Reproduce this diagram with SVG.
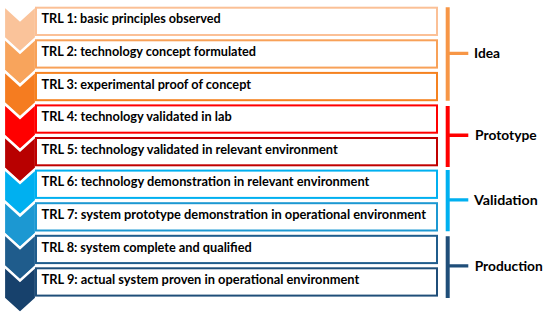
<svg xmlns="http://www.w3.org/2000/svg" width="550" height="318" viewBox="0 0 550 318">
<style>
.chev{stroke:#fff;stroke-width:2.2;stroke-linejoin:miter}
.box{fill:#fff;stroke-width:2}
.t{font-family:Lato,"Liberation Sans",sans-serif;font-weight:700;font-size:12.5px;fill:#000}
.lbl{font-family:Lato,"Liberation Sans",sans-serif;font-weight:700;font-size:13.5px;fill:#000}
</style>
<rect width="550" height="318" fill="#fff"/>
<g id="chevrons">
<polygon class="chev" fill="#FAC39A" points="4,5.7 20,20.2 36,5.7 36,37.7 20,52.2 4,37.7"/>
<polygon class="chev" fill="#F8A45C" points="4,38.3 20,52.8 36,38.3 36,70.3 20,84.8 4,70.3"/>
<polygon class="chev" fill="#F57C20" points="4,70.9 20,85.4 36,70.9 36,102.9 20,117.4 4,102.9"/>
<polygon class="chev" fill="#FF0000" points="4,103.4 20,117.9 36,103.4 36,135.4 20,149.9 4,135.4"/>
<polygon class="chev" fill="#B80000" points="4,136 20,150.5 36,136 36,168 20,182.5 4,168"/>
<polygon class="chev" fill="#00B0F0" points="4,168.6 20,183.1 36,168.6 36,200.6 20,215.1 4,200.6"/>
<polygon class="chev" fill="#1C98D2" points="4,201.2 20,215.7 36,201.2 36,233.2 20,247.7 4,233.2"/>
<polygon class="chev" fill="#1F5C8C" points="4,233.8 20,248.3 36,233.8 36,265.8 20,280.3 4,265.8"/>
<polygon class="chev" fill="#17416C" points="4,266.3 20,280.8 36,266.3 36,298.3 20,312.8 4,298.3"/>
</g>
<g id="trl1"><rect class="box" stroke="#FBC096" x="36" y="7.7" width="401" height="27.3"/><text class="t" x="41.5" y="23.4" textLength="179.2" lengthAdjust="spacingAndGlyphs">TRL 1: basic principles observed</text></g>
<g id="trl2"><rect class="box" stroke="#F8A158" x="36" y="40.3" width="401" height="27.3"/><text class="t" x="41.5" y="56" textLength="214.5" lengthAdjust="spacingAndGlyphs">TRL 2: technology concept formulated</text></g>
<g id="trl3"><rect class="box" stroke="#F58220" x="36" y="72.9" width="401" height="27.3"/><text class="t" x="41.5" y="88.6" textLength="209.5" lengthAdjust="spacingAndGlyphs">TRL 3: experimental proof of concept</text></g>
<g id="trl4"><rect class="box" stroke="#FF0000" x="36" y="105.4" width="401" height="27.3"/><text class="t" x="41.5" y="121.1" textLength="190.2" lengthAdjust="spacingAndGlyphs">TRL 4: technology validated in lab</text></g>
<g id="trl5"><rect class="box" stroke="#C00000" x="36" y="138" width="401" height="27.3"/><text class="t" x="41.5" y="153.7" textLength="296.2" lengthAdjust="spacingAndGlyphs">TRL 5: technology validated in relevant environment</text></g>
<g id="trl6"><rect class="box" stroke="#00B0F0" x="36" y="170.6" width="401" height="27.3"/><text class="t" x="41.5" y="186.3" textLength="327.8" lengthAdjust="spacingAndGlyphs">TRL 6: technology demonstration in relevant environment</text></g>
<g id="trl7"><rect class="box" stroke="#1C98D2" x="36" y="203.2" width="401" height="27.3"/><text class="t" x="41.5" y="218.9" textLength="384.5" lengthAdjust="spacingAndGlyphs">TRL 7: system prototype demonstration in operational environment</text></g>
<g id="trl8"><rect class="box" stroke="#1F5C8C" x="36" y="235.8" width="401" height="27.3"/><text class="t" x="41.5" y="251.5" textLength="210.2" lengthAdjust="spacingAndGlyphs">TRL 8: system complete and qualified</text></g>
<g id="trl9"><rect class="box" stroke="#1F4E79" x="36" y="268.3" width="401" height="27.3"/><text class="t" x="41.5" y="284" textLength="317.8" lengthAdjust="spacingAndGlyphs">TRL 9: actual system proven in operational environment</text></g>
<g id="connectors">
<path fill="#F79646" d="M445.7 7.3h4v93.4h-4z M449.7 51.7h18.6v3.3h-18.6z"/>
<path fill="#FF0000" d="M445.7 106h4v61h-4z M449.7 133.6h18.6v3.3h-18.6z"/>
<path fill="#00B0F0" d="M445.7 170h4v61.3h-4z M449.7 198.3h18.6v3.3h-18.6z"/>
<path fill="#1F4E79" d="M445.7 236.3h4v61.7h-4z M449.7 264.3h18.6v3.3h-18.6z"/>
</g>
<g id="idea"><text class="lbl" x="474" y="58.3" textLength="26" lengthAdjust="spacingAndGlyphs">Idea</text></g>
<g id="prototype"><text class="lbl" x="475" y="140.3" textLength="61.7" lengthAdjust="spacingAndGlyphs">Prototype</text></g>
<g id="validation"><text class="lbl" x="474" y="205" textLength="63.7" lengthAdjust="spacingAndGlyphs">Validation</text></g>
<g id="production"><text class="lbl" x="474.7" y="271" textLength="68" lengthAdjust="spacingAndGlyphs">Production</text></g>
</svg>
